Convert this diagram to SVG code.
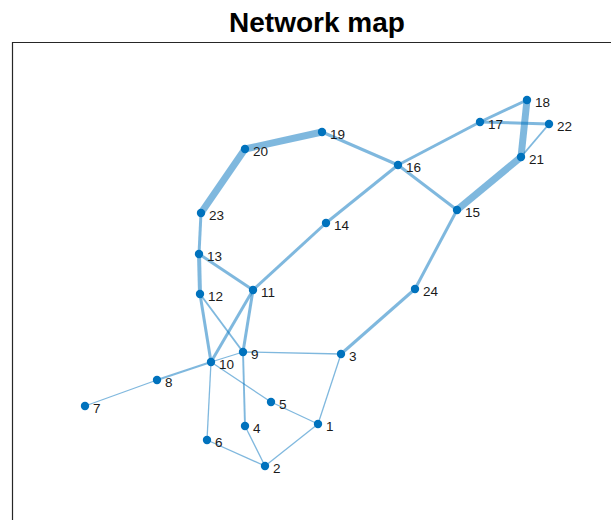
<svg xmlns="http://www.w3.org/2000/svg" width="611" height="520" viewBox="0 0 611 520">
  <style>
    .title { font-family: "Liberation Sans", Arial, sans-serif; font-weight: bold; font-size: 28px; fill: #000; }
    .axes { fill: none; stroke: #262626; stroke-width: 1.2; }
    .edge { stroke: #0072BD; stroke-opacity: 0.5; stroke-linecap: butt; fill: none; }
    .w1 { stroke-width: 1.3; }
    .w2 { stroke-width: 1.9; }
    .w3 { stroke-width: 3; }
    .w4 { stroke-width: 4; }
    .w7 { stroke-width: 7; }
    .node circle { fill: #0072BD; }
    .node text { font-family: "Liberation Sans", Arial, sans-serif; font-size: 13.5px; fill: #1a1a1a; }
  </style>
  <rect x="0" y="0" width="611" height="520" fill="#ffffff"/>
  <text class="title" x="317" y="32" text-anchor="middle">Network map</text>
  <!-- axes frame: only the top and left sides fall inside the canvas -->
  <path class="axes" d="M12.5 521 V42.5 H612"/>

  <g id="edges">
    <line class="edge w1" x1="85" y1="406" x2="157" y2="380"/>
    <line class="edge w2" x1="157" y1="380" x2="211" y2="362"/>
    <line class="edge w1" x1="211" y1="362" x2="243" y2="352"/>
    <line class="edge w1" x1="243" y1="352" x2="341" y2="354"/>
    <line class="edge w1" x1="211" y1="362" x2="271" y2="402"/>
    <line class="edge w1" x1="271" y1="402" x2="318" y2="424"/>
    <line class="edge w1" x1="318" y1="424" x2="341" y2="354"/>
    <line class="edge w1" x1="318" y1="424" x2="265" y2="466"/>
    <line class="edge w1" x1="265" y1="466" x2="245" y2="426"/>
    <line class="edge w1" x1="265" y1="466" x2="207" y2="440"/>
    <line class="edge w1" x1="207" y1="440" x2="211" y2="362"/>
    <line class="edge w2" x1="245" y1="426" x2="243" y2="352"/>
    <line class="edge w3" x1="341" y1="354" x2="415" y2="289"/>
    <line class="edge w3" x1="415" y1="289" x2="457" y2="210"/>
    <line class="edge w3" x1="457" y1="210" x2="398" y2="165"/>
    <line class="edge w7" x1="457" y1="210" x2="521" y2="157"/>
    <line class="edge w2" x1="521" y1="157" x2="549" y2="124"/>
    <line class="edge w7" x1="521" y1="157" x2="527" y2="100"/>
    <line class="edge w3" x1="527" y1="100" x2="480" y2="122"/>
    <line class="edge w3" x1="480" y1="122" x2="549" y2="124"/>
    <line class="edge w3" x1="480" y1="122" x2="398" y2="165"/>
    <line class="edge w3" x1="398" y1="165" x2="326" y2="223"/>
    <line class="edge w3" x1="326" y1="223" x2="253" y2="290"/>
    <line class="edge w3" x1="398" y1="165" x2="322" y2="132"/>
    <line class="edge w7" x1="322" y1="132" x2="245" y2="149"/>
    <line class="edge w7" x1="245" y1="149" x2="201" y2="213"/>
    <line class="edge w3" x1="201" y1="213" x2="199" y2="254"/>
    <line class="edge w4" x1="199" y1="254" x2="200" y2="294"/>
    <line class="edge w3" x1="199" y1="254" x2="253" y2="290"/>
    <line class="edge w3" x1="200" y1="294" x2="211" y2="362"/>
    <line class="edge w2" x1="200" y1="294" x2="243" y2="352"/>
    <line class="edge w3" x1="253" y1="290" x2="211" y2="362"/>
    <line class="edge w3" x1="253" y1="290" x2="243" y2="352"/>
  </g>

  <g id="n1" class="node"><circle cx="318" cy="424" r="4.2"/><text x="326" y="430.5">1</text></g>
  <g id="n2" class="node"><circle cx="265" cy="466" r="4.2"/><text x="273" y="472.5">2</text></g>
  <g id="n3" class="node"><circle cx="341" cy="354" r="4.2"/><text x="349" y="360.5">3</text></g>
  <g id="n4" class="node"><circle cx="245" cy="426" r="4.2"/><text x="253" y="432.5">4</text></g>
  <g id="n5" class="node"><circle cx="271" cy="402" r="4.2"/><text x="279" y="408.5">5</text></g>
  <g id="n6" class="node"><circle cx="207" cy="440" r="4.2"/><text x="215" y="446.5">6</text></g>
  <g id="n7" class="node"><circle cx="85" cy="406" r="4.2"/><text x="93" y="412.5">7</text></g>
  <g id="n8" class="node"><circle cx="157" cy="380" r="4.2"/><text x="165" y="386.5">8</text></g>
  <g id="n9" class="node"><circle cx="243" cy="352" r="4.2"/><text x="251" y="358.5">9</text></g>
  <g id="n10" class="node"><circle cx="211" cy="362" r="4.2"/><text x="219" y="368.5">10</text></g>
  <g id="n11" class="node"><circle cx="253" cy="290" r="4.2"/><text x="261" y="296.5">11</text></g>
  <g id="n12" class="node"><circle cx="200" cy="294" r="4.2"/><text x="208" y="300.5">12</text></g>
  <g id="n13" class="node"><circle cx="199" cy="254" r="4.2"/><text x="207" y="260.5">13</text></g>
  <g id="n14" class="node"><circle cx="326" cy="223" r="4.2"/><text x="334" y="229.5">14</text></g>
  <g id="n15" class="node"><circle cx="457" cy="210" r="4.2"/><text x="465" y="216.5">15</text></g>
  <g id="n16" class="node"><circle cx="398" cy="165" r="4.2"/><text x="406" y="171.5">16</text></g>
  <g id="n17" class="node"><circle cx="480" cy="122" r="4.2"/><text x="488" y="128.5">17</text></g>
  <g id="n18" class="node"><circle cx="527" cy="100" r="4.2"/><text x="535" y="106.5">18</text></g>
  <g id="n19" class="node"><circle cx="322" cy="132" r="4.2"/><text x="330" y="138.5">19</text></g>
  <g id="n20" class="node"><circle cx="245" cy="149" r="4.2"/><text x="253" y="155.5">20</text></g>
  <g id="n21" class="node"><circle cx="521" cy="157" r="4.2"/><text x="529" y="163.5">21</text></g>
  <g id="n22" class="node"><circle cx="549" cy="124" r="4.2"/><text x="557" y="130.5">22</text></g>
  <g id="n23" class="node"><circle cx="201" cy="213" r="4.2"/><text x="209" y="219.5">23</text></g>
  <g id="n24" class="node"><circle cx="415" cy="289" r="4.2"/><text x="423" y="295.5">24</text></g>
</svg>
